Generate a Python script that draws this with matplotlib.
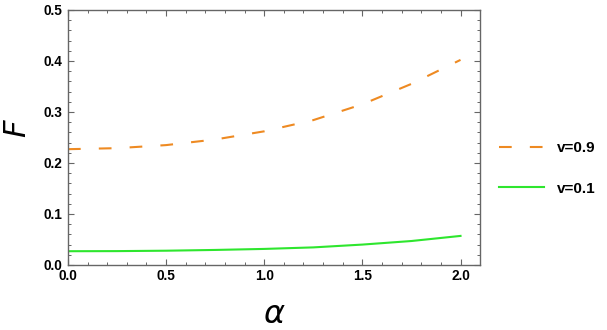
import matplotlib
matplotlib.use("Agg")
import matplotlib.pyplot as plt
from matplotlib.ticker import MultipleLocator

# ===== Data =====
alpha = [0.0, 0.25, 0.5, 0.75, 1.0, 1.25, 1.5, 1.75, 2.0]
F_v09 = [0.227, 0.229, 0.235, 0.246, 0.262, 0.284, 0.315, 0.355, 0.402]
F_v01 = [0.027, 0.0272, 0.028, 0.0295, 0.0315, 0.0345, 0.040, 0.047, 0.057]
labels = ["v=0.9", "v=0.1"]

ORANGE = "#EE8A22"
GREEN = "#2EE62E"
FRAME = "#666666"

plt.rcParams['font.family'] = ['Liberation Sans', 'DejaVu Sans']

fig = plt.figure(figsize=(6.07, 3.3), dpi=100)
ax = fig.add_axes([0.112, 0.197, 0.679, 0.773])

ax.plot(alpha, F_v09, color=ORANGE, lw=1.5, dashes=[6.1, 8.7], label=labels[0])
ax.plot(alpha, F_v01, color=GREEN, lw=1.5, label=labels[1])

ax.set_xlim(0, 2.1)
ax.set_ylim(0, 0.5)
ax.xaxis.set_major_locator(MultipleLocator(0.5))
ax.xaxis.set_minor_locator(MultipleLocator(0.1))
ax.yaxis.set_major_locator(MultipleLocator(0.1))
ax.yaxis.set_minor_locator(MultipleLocator(0.02))
ax.xaxis.set_major_formatter(plt.FuncFormatter(lambda v, p: f"{v:.1f}"))
ax.yaxis.set_major_formatter(plt.FuncFormatter(lambda v, p: f"{v:.1f}"))

for s in ax.spines.values():
    s.set_color(FRAME)
    s.set_linewidth(1.0)
ax.tick_params(which='both', direction='in', top=True, right=True, color=FRAME)
ax.tick_params(which='major', length=4, width=0.8, labelsize=9.8)
ax.tick_params(axis='x', which='major', pad=3)
ax.tick_params(axis='y', which='major', pad=4)
ax.tick_params(which='minor', length=2.3, width=0.7)
for lab in ax.get_xticklabels() + ax.get_yticklabels():
    lab.set_fontweight('bold')

ax.set_xlabel(r"$\alpha$", fontsize=23, labelpad=12)
ax.set_ylabel(r"$F$", fontsize=22, va='center', ha='center')
ax.yaxis.set_label_coords(-0.122, 0.535)

fig.legend(loc='center left', bbox_to_anchor=(0.80, 0.49), frameon=False,
           handlelength=2.9, labelspacing=1.75, handletextpad=0.9,
           prop={'weight': 'bold', 'size': 11})

fig.savefig("out.png", dpi=100)
